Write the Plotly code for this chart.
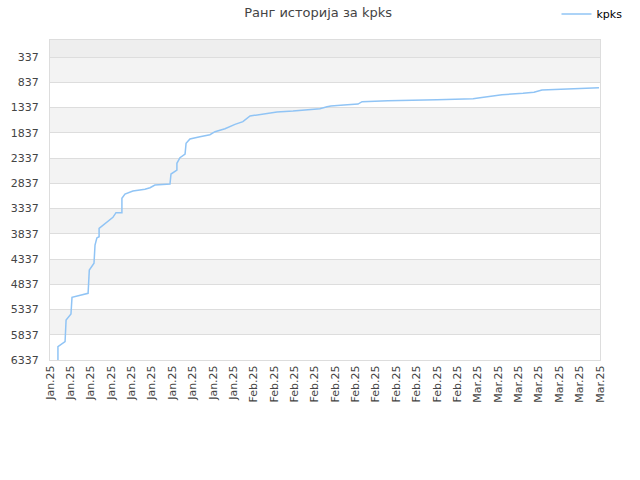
import plotly.graph_objects as go

tick_labels = ["Jan.25"] * 10 + ["Feb.25"] * 11 + ["Mar.25"] * 7
y_ticks = [337, 837, 1337, 1837, 2337, 2837, 3337, 3837, 4337, 4837, 5337, 5837, 6337]

# x in tick-index units, y = rank
x_vals = [0.39, 0.39, 0.74, 0.79, 1.03, 1.08, 1.87, 1.93, 2.16, 2.21, 2.30, 2.41, 2.41,
          2.75, 3.09, 3.24, 3.53, 3.53, 3.68, 4.07, 4.66, 4.91, 5.15, 5.89, 5.94, 6.23,
          6.23, 6.38, 6.63, 6.68, 6.87, 7.36, 7.85, 8.10, 8.59, 9.08, 9.47, 9.82, 10.41,
          11.14, 11.93, 12.76, 13.25, 13.60, 13.79, 14.43, 15.12, 15.32, 16.59, 19.00,
          20.77, 21.11, 21.45, 21.75, 22.19, 23.22, 23.76, 24.15, 25.18, 26.36, 26.95]
ranks = [6337, 6073, 5974, 5545, 5426, 5096, 5016, 4555, 4422, 4060, 3920, 3895, 3729,
         3624, 3511, 3420, 3420, 3135, 3050, 2990, 2957, 2925, 2872, 2852, 2654, 2575,
         2442, 2331, 2258, 2046, 1961, 1915, 1876, 1816, 1757, 1670, 1618, 1505, 1472,
         1426, 1406, 1386, 1360, 1321, 1307, 1287, 1268, 1222, 1202, 1182,
         1163, 1143, 1123, 1103, 1083, 1056, 1036, 990, 971, 945, 945]

band_edges = [0] + y_ticks

fig = go.Figure()
fig.add_trace(go.Scatter(x=x_vals, y=ranks, mode="lines", name="kpks",
                         line=dict(color="#90c4f5", width=1.5)))

shapes = []
for i in range(len(band_edges) - 1):
    if i == 0:
        col = "#eeeeee"
    elif i % 2 == 1:
        col = "#f3f3f3"
    else:
        col = "#ffffff"
    shapes.append(dict(type="rect", xref="paper", yref="y", x0=0, x1=1,
                       y0=band_edges[i], y1=band_edges[i + 1],
                       fillcolor=col, line=dict(width=0), layer="below"))

fig.update_layout(
    width=640, height=480,
    margin=dict(l=50, r=40, t=40, b=120, autoexpand=False),
    paper_bgcolor="white", plot_bgcolor="white",
    shapes=shapes,
    title=dict(text="Ранг историја за kpks", x=0.497, xanchor="center",
               y=0.975, yanchor="middle",
               font=dict(family="DejaVu Sans", size=13, color="#444444")),
    legend=dict(orientation="h", x=1.05, xanchor="right", y=1.081, yanchor="middle",
                font=dict(family="DejaVu Sans", size=11, color="#000000"),
                bgcolor="rgba(0,0,0,0)", itemwidth=30),
    showlegend=True,
    font=dict(family="DejaVu Sans", size=11, color="#444444"),
)
fig.update_xaxes(range=[0, 27], tickmode="array", tickvals=list(range(len(tick_labels))),
                 ticktext=tick_labels, tickangle=-90, showgrid=False, zeroline=False,
                 showline=True, linecolor="#dddddd", mirror=True, automargin=False,
                 ticks="", tickfont=dict(size=11, color="#444444"))
fig.update_yaxes(range=[6337, 0], tickmode="array", tickvals=y_ticks,
                 showgrid=True, gridcolor="#dddddd", zeroline=False,
                 showline=True, linecolor="#dddddd", mirror=True, automargin=False,
                 ticks="", ticklabelstandoff=8, tickfont=dict(size=11, color="#444444"))

fig.write_html("out.html", config={"displayModeBar": False},
               post_script="document.body.style.margin='0';document.body.style.overflow='hidden';")
